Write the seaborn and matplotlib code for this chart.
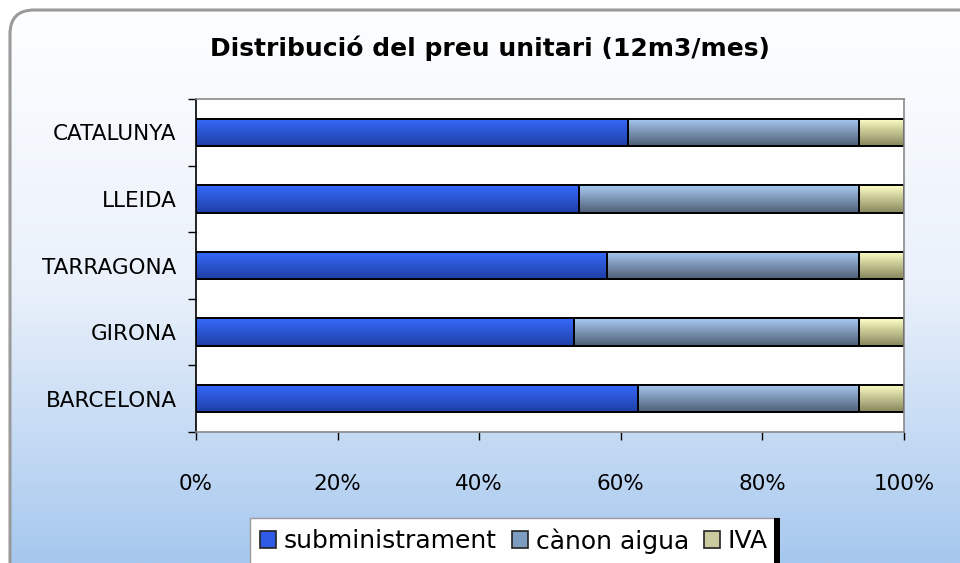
import matplotlib
matplotlib.use("Agg")
import matplotlib.pyplot as plt
import seaborn as sns
import numpy as np
import pandas as pd
from matplotlib.patches import FancyBboxPatch, Rectangle
from matplotlib.colors import LinearSegmentedColormap
from matplotlib.ticker import FixedLocator, PercentFormatter

# Data (percent of unit price)
regions = ["CATALUNYA", "LLEIDA", "TARRAGONA", "GIRONA", "BARCELONA"]
subministrament = [61.0, 54.1, 58.0, 53.4, 62.4]
canon_aigua = [32.6, 39.5, 35.6, 40.2, 31.2]
iva = [6.4, 6.4, 6.4, 6.4, 6.4]
series = ["subministrament", "cànon aigua", "IVA"]
xticks = [0, 20, 40, 60, 80, 100]

df = pd.DataFrame({"region": regions, "s": subministrament, "c": canon_aigua, "i": iva})
df["cum1"] = df["s"]
df["cum2"] = df["s"] + df["c"]
df["cum3"] = df["s"] + df["c"] + df["i"]

# gradient colours (top, bottom) and flat legend colours
grads = {
    "IVA": ("#FFFFC6", "#86865C"),
    "cànon aigua": ("#A8CAF2", "#4E5E76"),
    "subministrament": ("#3569FC", "#1F3FA6"),
}
flat = {"subministrament": "#2F5BE6", "cànon aigua": "#7E9CC0", "IVA": "#CACAA0"}

sns.set_style("white", rc={"text.color": "black", "xtick.color": "black",
                           "ytick.color": "black", "axes.labelcolor": "black"})
plt.rcParams["font.family"] = ["DejaVu Sans"]

W, H = 960, 563
fig = plt.figure(figsize=(9.6, 5.63), dpi=100)
fig.patch.set_facecolor("white")

# background rounded panel with vertical gradient
bg = fig.add_axes([0, 0, 1, 1])
bg.set_xlim(0, W)
bg.set_ylim(H, 0)
bg.axis("off")
panel = FancyBboxPatch((10, 10), 1100, 700, boxstyle="round,pad=0,rounding_size=24",
                       facecolor="none", edgecolor="#9a9a9a", linewidth=2.2, zorder=3)
bg.add_patch(panel)
bgcmap = LinearSegmentedColormap.from_list("bg", ["#FDFEFF", "#EAF1FB", "#A6C8EE"])
grad_bg = np.linspace(0, 1, 256).reshape(-1, 1)
im = bg.imshow(grad_bg, cmap=bgcmap, aspect="auto", extent=(10, W, H, 10), zorder=1)
im.set_clip_path(panel)
bg.set_xlim(0, W)
bg.set_ylim(H, 0)

# plot area
ax = fig.add_axes([196 / W, 1 - 432 / H, 708 / W, 333 / H])
ax.set_facecolor("white")

order = [("cum3", "IVA"), ("cum2", "cànon aigua"), ("cum1", "subministrament")]
for col, name in order:
    sns.barplot(data=df, y="region", x=col, order=regions, orient="h", width=0.41,
                color=flat[name], saturation=1, edgecolor="black", linewidth=1.4, ax=ax)

ax.set_xlim(0, 100)
ax.set_ylim(len(regions) - 0.5, -0.5)
xl, yl = ax.get_xlim(), ax.get_ylim()

g = np.linspace(0, 1, 64).reshape(-1, 1)
for i, (cont, (col, name)) in enumerate(zip(ax.containers, order)):
    cmap = LinearSegmentedColormap.from_list(f"g{i}", list(grads[name]))
    for p in cont.patches:
        x0, y0, w, h = p.get_x(), p.get_y(), p.get_width(), p.get_height()
        gi = ax.imshow(g, cmap=cmap, aspect="auto", extent=(x0, x0 + w, y0 + h, y0),
                       origin="upper", zorder=2 + i, interpolation="bilinear")
        gi.set_clip_path(p)
        p.set_facecolor("none")
        p.set_zorder(2.5 + i)
ax.set_xlim(xl)
ax.set_ylim(yl)

ax.set_xlabel("")
ax.set_ylabel("")
ax.xaxis.set_major_locator(FixedLocator(xticks))
ax.xaxis.set_major_formatter(PercentFormatter(decimals=0))
ax.set_yticks(range(len(regions)))
ax.set_yticklabels(regions)
ax.yaxis.set_minor_locator(FixedLocator(np.arange(-0.5, len(regions), 1.0)))
ax.tick_params(axis="y", which="major", length=0, pad=14, labelsize=15.5)
ax.tick_params(axis="y", which="minor", length=6, width=1, color="black", left=True)
ax.tick_params(axis="x", which="major", length=6, width=1, color="black", bottom=True,
               pad=24, labelsize=15.5)
for s in ["top", "right", "bottom"]:
    ax.spines[s].set_color("#8a8a8a")
    ax.spines[s].set_linewidth(1.2)
ax.spines["left"].set_color("black")
ax.spines["left"].set_linewidth(1.2)

fig.text(490 / W, 1 - 48 / H, "Distribució del preu unitari (12m3/mes)",
         ha="center", va="center", fontsize=18, fontweight="bold")

handles = [Rectangle((0, 0), 1, 1, facecolor=flat[n], edgecolor="#222222", linewidth=1.2)
           for n in series]
leg = fig.legend(handles, series, loc="upper left", bbox_to_anchor=(250 / W, 1 - 518 / H),
                 ncol=3, frameon=True, fancybox=False, framealpha=1, edgecolor="#9a9a9a",
                 fontsize=18, handlelength=0.65, handleheight=0.65, handletextpad=0.3,
                 columnspacing=0.6, borderpad=0.4, borderaxespad=0)
fig.add_artist(Rectangle((774 / W, 0), 6 / W, (H - 518) / H, transform=fig.transFigure,
                         facecolor="black", edgecolor="none", zorder=10))

fig.savefig("out.png", dpi=100)
